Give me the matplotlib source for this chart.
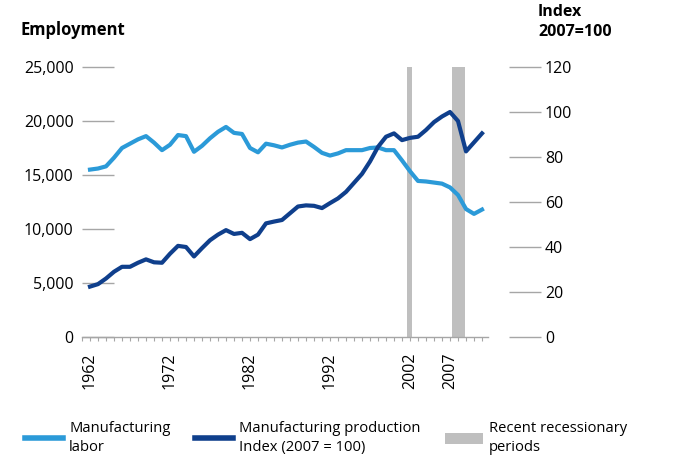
import matplotlib
matplotlib.use('Agg')
import matplotlib.pyplot as plt
from matplotlib.lines import Line2D
from matplotlib.patches import Patch
from matplotlib.ticker import FuncFormatter

plt.rcParams['font.family'] = ['Open Sans', 'DejaVu Sans']

# data
years = list(range(1962, 2012))
employment = [15500, 15600, 15800, 16600, 17500, 17900, 18300, 18600, 18000, 17300,
              17800, 18700, 18600, 17150, 17700, 18400, 19000, 19450, 18900, 18800,
              17500, 17100, 17900, 17750, 17550, 17800, 18000, 18100, 17600, 17050,
              16800, 17000, 17300, 17300, 17300, 17500, 17550, 17300, 17300, 16350,
              15350, 14450, 14400, 14300, 14200, 13850, 13150, 11850, 11400, 11800]
prod_index = [22.4, 23.5, 26.0, 29.0, 31.2, 31.2, 33.0, 34.5, 33.2, 33.0,
              37.0, 40.5, 40.0, 35.8, 39.5, 43.0, 45.5, 47.5, 45.8, 46.3,
              43.5, 45.5, 50.5, 51.3, 52.0, 55.0, 58.0, 58.5, 58.3, 57.3,
              59.5, 61.6, 64.5, 68.5, 72.5, 78.0, 84.5, 89.0, 90.5, 87.5,
              88.5, 89.0, 92.0, 95.5, 98.0, 100.0, 96.0, 82.5, 86.5, 90.5]
recessions = [(2001.6, 2002.3), (2007.2, 2008.9)]
label_years = [1962, 1972, 1982, 1992, 2002, 2007]

light = '#2b9ad8'
dark = '#0f3f8c'
grey = '#bfbfbf'
tickc = '#a6a6a6'

fig = plt.figure(figsize=(6.95, 4.65), dpi=100)
ax = fig.add_axes([82/695, 128/465, 406/695, 270/465])

for start, end in recessions:
    ax.axvspan(start, end, color=grey, lw=0, zorder=0)

ax.plot(years, employment, color=light, lw=3, solid_joinstyle='round', zorder=2)
ax.set_xlim(1961, 2011.75)
ax.set_ylim(0, 25000)
ax.set_yticks(range(0, 25001, 5000))
ax.yaxis.set_major_formatter(FuncFormatter(lambda v, p: f'{int(v):,}'))
ax.tick_params(axis='y', direction='in', length=23, width=1, color=tickc, pad=6,
               labelsize=11.5)

tick_years = list(range(1961, 2012))
ax.set_xticks(tick_years)
ax.set_xticklabels([str(y) if y in label_years else '' for y in tick_years],
                   rotation=90, fontsize=11.5)
ax.tick_params(axis='x', direction='out', length=3, width=0.8, color=tickc, pad=8)

for s in ['left', 'right', 'top']:
    ax.spines[s].set_visible(False)
ax.spines['bottom'].set_color(tickc)
ax.spines['bottom'].set_linewidth(1)

ax2 = ax.twinx()
ax2.plot(years, prod_index, color=dark, lw=3, solid_joinstyle='round', zorder=3)
ax2.set_ylim(0, 120)
ax2.set_yticks(range(0, 121, 20))
ax2.spines['right'].set_position(('outward', 15))
for s in ax2.spines.values():
    s.set_visible(False)
ax2.tick_params(axis='y', direction='out', length=23, width=1, color=tickc, pad=3,
                labelsize=11.5)

fig.text(20/695, 1 - 30/465, 'Employment', fontsize=12, fontweight='bold',
         va='center', ha='left')
fig.text(538/695, 1 - 22/465, 'Index\n2007=100', fontsize=11.5, fontweight='bold',
         va='center', ha='left', linespacing=1.3)

handles = [Line2D([], [], color=light, lw=4),
           Line2D([], [], color=dark, lw=4),
           Patch(facecolor=grey, edgecolor='none')]
labels = ['Manufacturing\nlabor', 'Manufacturing production\nIndex (2007 = 100)',
          'Recent recessionary\nperiods']
leg = fig.legend(handles, labels, loc='upper left', bbox_to_anchor=(25/695, 1 - 421/465),
                 ncol=3, frameon=False, fontsize=10.6, handlelength=2.6, handleheight=0.8,
                 handletextpad=0.4, columnspacing=1.65, borderpad=0, borderaxespad=0,
                 labelspacing=0)
for t in leg.get_texts():
    t.set_linespacing(1.35)

fig.savefig('out.png', dpi=100)
